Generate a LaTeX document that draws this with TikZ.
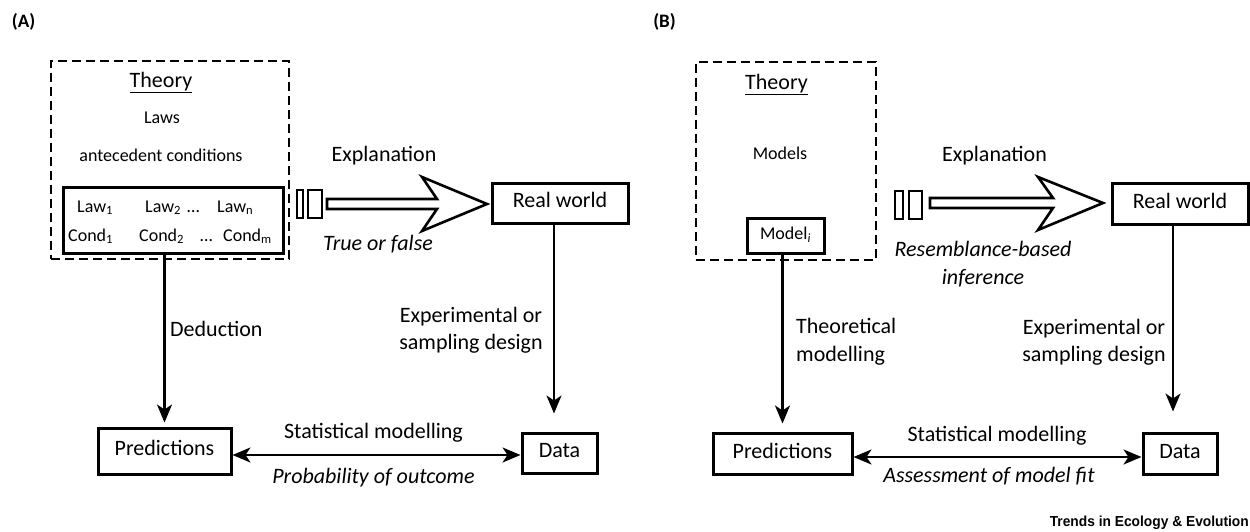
\documentclass[tikz,border=0pt]{standalone}
\usepackage{fontspec}
\setmainfont{Carlito}
\newfontfamily\trendsfont{Liberation Sans}
\usetikzlibrary{arrows.meta}
\tikzset{
  big/.style={font=\fontsize{22}{27}\selectfont, inner sep=0pt, text height=14pt, text depth=4.5pt},
  bigml/.style={font=\fontsize{22}{27}\selectfont, inner sep=0pt},
  small/.style={font=\fontsize{18}{22}\selectfont, inner sep=0pt, text height=12pt, text depth=4pt},
  box/.style={draw, line width=3pt, inner sep=0pt},
  dbox/.style={draw, line width=2.7pt, dash pattern=on 9pt off 5pt},
  hollow/.style={draw, line width=2.6pt, fill=white, line join=miter},
  arr/.style={line width=2.2pt, -{Stealth[length=18pt,width=15pt,inset=5pt]}},
  dbl/.style={line width=2.2pt, {Stealth[length=18pt,width=15pt,inset=5pt]}-{Stealth[length=18pt,width=15pt,inset=5pt]}},
  panel/.style={font=\bfseries\fontsize{19}{22}\selectfont, inner sep=0pt}
}
\begin{document}
\begin{tikzpicture}[x=1pt,y=-1pt]
\useasboundingbox (0,0) rectangle (1250,532);

% ---------------- Panel A ----------------
\node[panel] (labA) at (23.5,22) {(A)};
\node[dbox, minimum width=238pt, minimum height=198pt] (theoA) at (170,160) {};
\node[big] (thA) at (161,83) {\underline{Theory}};
\node[small] (lawsA) at (162,120) {Laws};
\node[small] (antA) at (161,157) {antecedent conditions};
\node[box, minimum width=220pt, minimum height=66pt] (innerA) at (173,220) {};
\node[small, anchor=west] (law1) at (77,208) {Law\textsubscript{1}};
\node[small, anchor=west] (law2) at (145,208) {Law\textsubscript{2}};
\node[small, anchor=west] (dotsL) at (187,208) {…};
\node[small, anchor=west] (lawn) at (217,208) {Law\textsubscript{n}};
\node[small, anchor=west] (cond1) at (68,237) {Cond\textsubscript{1}};
\node[small, anchor=west] (cond2) at (139,237) {Cond\textsubscript{2}};
\node[small, anchor=west] (dotsC) at (200,237) {…};
\node[small, anchor=west] (condm) at (223,237) {Cond\textsubscript{m}};

\node[box, big, minimum width=136pt, minimum height=40pt] (rwA) at (560,203) {Real world};
\node[box, big, minimum width=133pt, minimum height=46pt] (predA) at (164.5,451) {Predictions};
\node[box, big, minimum width=75pt, minimum height=40pt] (dataA) at (559.5,453) {Data};

% hollow explanation arrow A
\draw[hollow] (297,190) rectangle (303,218);
\draw[hollow] (308,190) rectangle (322,218);
\draw[hollow] (327,199) -- (437,199) -- (422,177) -- (487,204) -- (422,231) -- (437,209) -- (327,209) -- cycle;

\node[big] (explA) at (384,157) {Explanation};
\node[big, font=\fontsize{22}{27}\selectfont\itshape] (tfA) at (378,246) {True or false};

\draw[arr, shorten >=4pt] (innerA.south -| predA.north) -- (predA.north);
\draw[arr, shorten >=18pt] ([xshift=-6pt]rwA.south) -- ([xshift=-6pt]rwA.south |- dataA.north);
\draw[dbl] ([yshift=-4pt]predA.east) -- ([yshift=-4pt]predA.east -| dataA.west);

\node[big, anchor=west] (dedA) at (170,332) {Deduction};
\node[bigml, align=center] (expA) at (471,330) {Experimental or\\sampling design};
\node[big] (statA) at (373.5,434) {Statistical modelling};
\node[big, font=\fontsize{22}{27}\selectfont\itshape] (probA) at (373.5,479) {Probability of outcome};

% ---------------- Panel B ----------------
\node[panel] (labB) at (664.5,22) {(B)};
\node[dbox, minimum width=180pt, minimum height=198pt] (theoB) at (786,161) {};
\node[big] (thB) at (776.5,85) {\underline{Theory}};
\node[small] (modelsB) at (780,156) {Models};
\node[box, small, minimum width=77pt, minimum height=35pt] (modelB) at (785.5,235.5) {Model\textsubscript{\textit{i}}};

\node[box, big, minimum width=136pt, minimum height=41pt] (rwB) at (1180,203.5) {Real world};
\node[box, big, minimum width=139pt, minimum height=41pt] (predB) at (782.5,453.5) {Predictions};
\node[box, big, minimum width=74pt, minimum height=41pt] (dataB) at (1180,453.5) {Data};

% hollow explanation arrow B
\draw[hollow] (895,191) rectangle (903,219);
\draw[hollow] (909,191) rectangle (922,219);
\draw[hollow] (930,198) -- (1053,198) -- (1038,177) -- (1103,203) -- (1038,230) -- (1053,208) -- (930,208) -- cycle;

\node[big] (explB) at (994.5,157) {Explanation};
\node[bigml, align=center, font=\fontsize{22}{28}\selectfont\itshape] (resB) at (983,264) {Resemblance-based\\inference};

\draw[arr, shorten >=8pt] (modelB.south -| predB.north) -- (predB.north);
\draw[arr, shorten >=20pt] ([xshift=-7pt]rwB.south) -- ([xshift=-7pt]rwB.south |- dataB.north);
\draw[dbl] ([yshift=-3.5pt]predB.east) -- ([yshift=-3.5pt]predB.east -| dataB.west);

\node[bigml, align=left, anchor=west, font=\fontsize{22}{28}\selectfont] (theoM) at (796,342) {Theoretical\\modelling};
\node[bigml, align=center] (expB) at (1094,342) {Experimental or\\sampling design};
\node[big] (statB) at (997,437) {Statistical modelling};
\node[big, font=\fontsize{22}{27}\selectfont\itshape] (assB) at (989,478) {Assessment of model fit};

\node[anchor=east, inner sep=0pt] (trends) at (1249,523) {\scalebox{0.95}[1]{\trendsfont\bfseries\fontsize{14.5}{17}\selectfont Trends in Ecology \& Evolution}};
\end{tikzpicture}
\end{document}
